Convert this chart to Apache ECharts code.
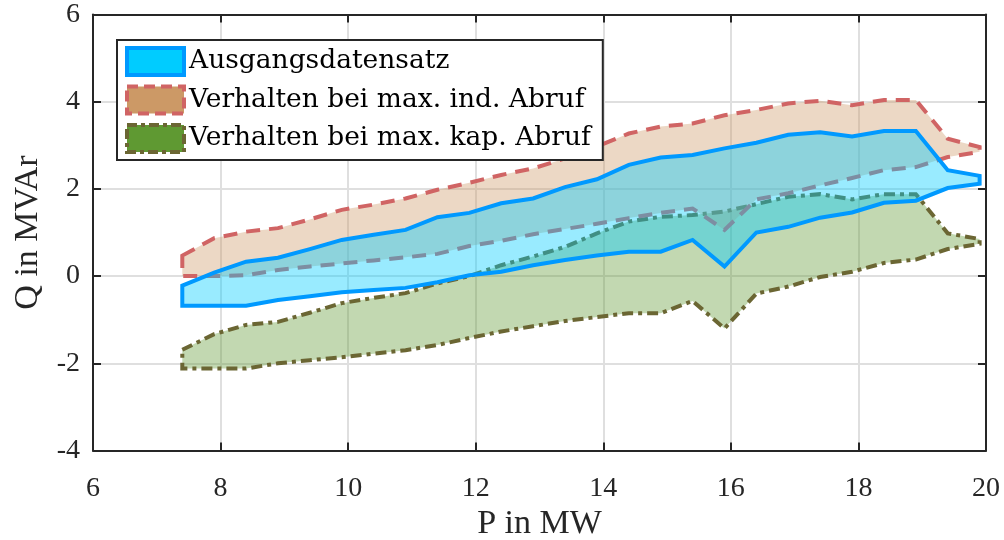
<!DOCTYPE html>
<html>
<head>
<meta charset="utf-8">
<script src="https://cdn.jsdelivr.net/npm/echarts@6/dist/echarts.min.js"></script>
<style>
  html, body { margin: 0; padding: 0; background: #fff; }
  #main { width: 1004px; height: 540px; }
</style>
</head>
<body>
<div id="main"></div>
<script>
// P in MW
const xs = [7.4, 7.9, 8.4, 8.9, 9.4, 9.9, 10.4, 10.9, 11.4, 11.9, 12.4, 12.9, 13.4,
            13.9, 14.4, 14.9, 15.4, 15.9, 16.4, 16.9, 17.4, 17.9, 18.4, 18.9, 19.4, 19.9]

// Ausgangsdatensatz
const baseUpper = [-0.22, 0.08, 0.33, 0.42, 0.62, 0.83, 0.95, 1.06, 1.35, 1.45, 1.67, 1.78, 2.04,
                   2.22, 2.55, 2.72, 2.78, 2.93, 3.06, 3.24, 3.30, 3.20, 3.33, 3.33, 2.43, 2.30]
const baseLower = [-0.68, -0.68, -0.68, -0.55, -0.46, -0.37, -0.32, -0.27, -0.14, 0.02, 0.10, 0.25, 0.37,
                   0.47, 0.56, 0.56, 0.83, 0.22, 1.00, 1.13, 1.34, 1.46, 1.68, 1.73, 2.02, 2.12]

// Verhalten bei max. ind. Abruf
const indUpper = [0.47, 0.87, 1.02, 1.10, 1.30, 1.52, 1.64, 1.78, 1.98, 2.14, 2.32, 2.47, 2.70,
                  2.97, 3.27, 3.43, 3.50, 3.69, 3.81, 3.96, 4.02, 3.92, 4.04, 4.04, 3.15, 2.96]
const indLower = [0.00, 0.00, 0.02, 0.14, 0.22, 0.29, 0.36, 0.43, 0.51, 0.69, 0.81, 0.96, 1.08,
                  1.20, 1.33, 1.45, 1.55, 1.06, 1.76, 1.90, 2.08, 2.25, 2.43, 2.50, 2.73, 2.85]

// Verhalten bei max. kap. Abruf
const kapUpper = [-1.69, -1.33, -1.12, -1.05, -0.84, -0.62, -0.50, -0.39, -0.17, 0.00, 0.25, 0.45, 0.67,
                  0.98, 1.25, 1.36, 1.40, 1.48, 1.65, 1.82, 1.88, 1.76, 1.88, 1.88, 0.98, 0.85]
const kapLower = [-2.12, -2.12, -2.12, -2.00, -1.93, -1.86, -1.78, -1.70, -1.58, -1.42, -1.27, -1.15, -1.03,
                  -0.94, -0.85, -0.85, -0.57, -1.20, -0.40, -0.24, -0.02, 0.10, 0.30, 0.38, 0.62, 0.74]

const seriesNames = ['Ausgangsdatensatz', 'Verhalten bei max. ind. Abruf', 'Verhalten bei max. kap. Abruf']

const axisFont = 'Liberation Serif'
const legendFont = 'DejaVu Serif'
const axisColor = '#262626'

function band(name, upper, lower, fill, edge, dash) {
  return {
    name: name,
    type: 'custom',
    coordinateSystem: 'cartesian2d',
    silent: true,
    itemStyle: { color: fill },
    data: [[xs[0], lower[0]]],
    renderItem: function (params, api) {
      let pts = []
      xs.forEach(function (x, i) { pts.push(api.coord([x, upper[i]])) })
      for (let i = xs.length - 1; i >= 0; i--) pts.push(api.coord([xs[i], lower[i]]))
      return {
        type: 'polygon',
        shape: { points: pts },
        style: { fill: fill, stroke: edge, lineWidth: 4, lineDash: dash, lineJoin: 'miter' }
      }
    }
  }
}

function frameAxis(pos, extra) {
  return Object.assign({
    type: 'value',
    position: pos,
    axisLine: { show: true, onZero: false, lineStyle: { color: axisColor, width: 2 } },
    axisTick: { show: true, inside: true, length: 8, lineStyle: { color: axisColor, width: 2 } },
    axisLabel: { show: false },
    splitLine: { show: false }
  }, extra)
}

const chart = echarts.init(document.getElementById('main'))

chart.setOption({
  animation: false,
  backgroundColor: '#fff',
  grid: { left: 93, right: 18, top: 14.5, bottom: 89.5, containLabel: false, outerBoundsMode: 'none' },
  xAxis: [
    frameAxis('bottom', {
      min: 6, max: 20, interval: 2,
      name: 'P in MW', nameLocation: 'middle', nameGap: 55,
      nameTextStyle: { fontFamily: axisFont, fontSize: 34, color: axisColor },
      axisLabel: { show: true, fontFamily: axisFont, fontSize: 28, color: axisColor, margin: 24 },
      splitLine: { show: true, lineStyle: { color: '#dfdfdf', width: 2 } }
    }),
    frameAxis('top', { min: 6, max: 20, interval: 2 })
  ],
  yAxis: [
    frameAxis('left', {
      min: -4, max: 6, interval: 2,
      name: 'Q in MVAr', nameLocation: 'middle', nameGap: 48,
      nameTextStyle: { fontFamily: axisFont, fontSize: 34, color: axisColor },
      axisLabel: { show: true, fontFamily: axisFont, fontSize: 28, color: axisColor, margin: 13 },
      splitLine: { show: true, lineStyle: { color: '#dfdfdf', width: 2 } }
    }),
    frameAxis('right', { min: -4, max: 6, interval: 2 })
  ],
  legend: {
    orient: 'vertical',
    left: 117,
    top: 40,
    icon: 'rect',
    itemWidth: 57,
    itemHeight: 27,
    itemGap: 7.5,
    padding: [6, 12, 6, 8],
    backgroundColor: '#fff',
    borderColor: axisColor,
    borderWidth: 2,
    borderRadius: 0,
    textStyle: { fontFamily: legendFont, fontSize: 26.5, color: '#000', lineHeight: 30 },
    data: [
      { name: seriesNames[0], itemStyle: { color: '#00ccff', borderColor: '#0099ff', borderWidth: 4, borderType: 'solid' } },
      { name: seriesNames[1], itemStyle: { color: '#cc9966', borderColor: '#d06464', borderWidth: 4, borderType: [11, 6] } },
      { name: seriesNames[2], itemStyle: { color: '#5f9932', borderColor: '#6b6633', borderWidth: 4, borderType: [10, 4, 4, 4] } }
    ]
  },
  series: [
    band(seriesNames[2], kapUpper, kapLower, 'rgba(95,153,50,0.38)', '#6b6633', [11, 5, 4, 5]),
    band(seriesNames[1], indUpper, indLower, 'rgba(204,153,102,0.38)', '#d06464', [14, 9]),
    band(seriesNames[0], baseUpper, baseLower, 'rgba(0,204,255,0.4)', '#0099ff', null)
  ]
})
</script>
</body>
</html>
